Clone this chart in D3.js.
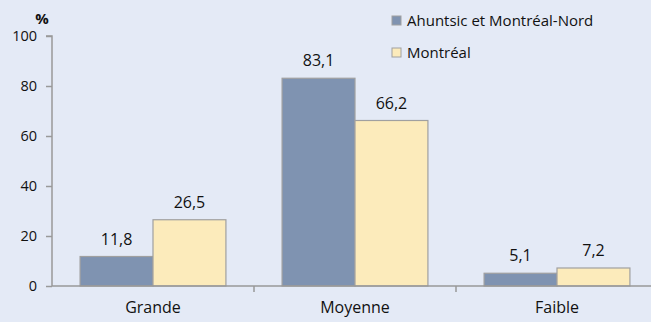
<!DOCTYPE html>
<html>
<head>
<meta charset="utf-8">
<script src="https://cdn.jsdelivr.net/npm/d3@7"></script>
<style>
  html, body { margin: 0; padding: 0; background: #E4EAF6; }
  svg { display: block; font-family: "Open Sans", sans-serif; }
</style>
</head>
<body>
<svg id="chart" width="651" height="322"></svg>
<script>
// Categories and series values (%)
const categories = ["Grande", "Moyenne", "Faible"];
const seriesNames = ["Ahuntsic et Montréal-Nord", "Montréal"];
const ahuntsic = [11.8, 83.1, 5.1];
const montreal = [26.5, 66.2, 7.2];
const yTicks = [0, 20, 40, 60, 80, 100];
const colors = ["#7F93B1", "#FCEBBB"];

const svg = d3.select("#chart");
const W = 651, H = 322;
const margin = { left: 52, top: 36, bottom: 36 };
const plotW = 606;

const x = d3.scaleBand().domain(categories).range([margin.left, margin.left + plotW]).paddingInner(0).paddingOuter(0);
const xs = d3.scaleBand().domain(seriesNames).range([0, x.bandwidth()]).paddingInner(0).paddingOuter(0.385);
const y = d3.scaleLinear().domain([0, 100]).range([H - margin.bottom, margin.top]);

const fmt = v => d3.format(".1f")(v).replace(".", ",");

const data = categories.map((c, i) => ({ cat: c, values: [ahuntsic[i], montreal[i]] }));

// Bars
const groups = svg.append("g").selectAll("g").data(data).join("g")
  .attr("transform", d => `translate(${x(d.cat)},0)`);

groups.selectAll("rect").data(d => d.values.map((v, k) => ({ v, k })))
  .join("rect")
  .attr("x", d => xs(seriesNames[d.k]))
  .attr("y", d => y(d.v))
  .attr("width", xs.bandwidth())
  .attr("height", d => y(0) - y(d.v))
  .attr("fill", d => colors[d.k])
  .attr("stroke", "#A0A0A0")
  .attr("stroke-width", 1.2);

groups.selectAll("text.val").data(d => d.values.map((v, k) => ({ v, k })))
  .join("text")
  .attr("class", "val")
  .attr("x", d => xs(seriesNames[d.k]) + xs.bandwidth() / 2)
  .attr("y", d => y(d.v) - 12)
  .attr("text-anchor", "middle")
  .attr("font-size", 16)
  .attr("fill", "#111")
  .text(d => fmt(d.v));

// Y axis
const yAxis = svg.append("g")
  .attr("transform", `translate(${margin.left},0)`)
  .call(d3.axisLeft(y).tickValues(yTicks).tickSize(6).tickPadding(9));
yAxis.select(".domain").attr("stroke", "#999").attr("stroke-width", 1.5).attr("d", `M-6,${y(100)}H0V${y(0)}`);
yAxis.selectAll(".tick line").attr("stroke", "#999").attr("stroke-width", 1.5);
yAxis.selectAll(".tick text").attr("font-size", 14.5).attr("fill", "#111").attr("font-family", "Open Sans, sans-serif");

// X axis
const xAxis = svg.append("g")
  .attr("transform", `translate(0,${y(0)})`)
  .call(d3.axisBottom(x).tickSize(0).tickPadding(16));
xAxis.select(".domain").attr("stroke", "#999").attr("stroke-width", 1.5).attr("d", `M${margin.left},0H${W}`);
xAxis.selectAll(".tick text").attr("font-size", 16).attr("fill", "#111").attr("font-family", "Open Sans, sans-serif");

// Category boundary ticks
svg.append("g").selectAll("line").data(categories.slice(1))
  .join("line")
  .attr("x1", d => x(d)).attr("x2", d => x(d))
  .attr("y1", y(0)).attr("y2", y(0) + 6)
  .attr("stroke", "#999").attr("stroke-width", 1.5);

// Unit label
svg.append("text")
  .attr("x", 42).attr("y", 24)
  .attr("text-anchor", "middle")
  .attr("font-size", 15).attr("font-weight", "bold").attr("fill", "#111")
  .text("%");

// Legend
const legend = svg.append("g").selectAll("g").data(seriesNames).join("g")
  .attr("transform", (d, i) => `translate(392,${16 + i * 32})`);
legend.append("rect")
  .attr("width", 9).attr("height", 9)
  .attr("fill", (d, i) => colors[i])
  .attr("stroke", "#A0A0A0").attr("stroke-width", 1);
legend.append("text")
  .attr("x", 15).attr("y", 5)
  .attr("dy", "0.35em")
  .attr("font-size", 15).attr("fill", "#111")
  .text(d => d);
</script>
</body>
</html>
